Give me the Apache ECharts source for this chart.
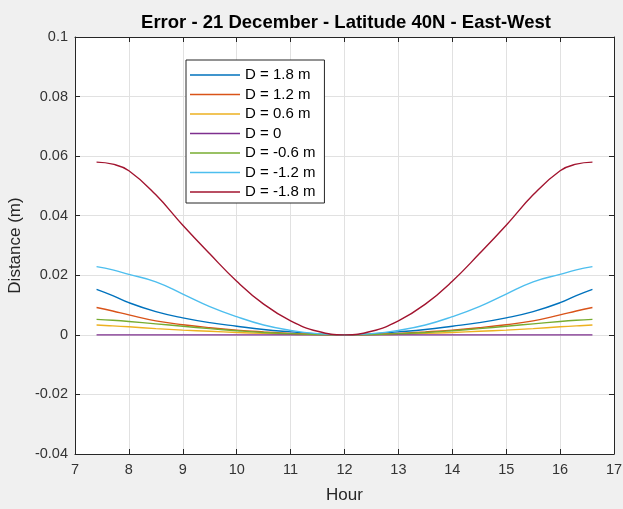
<!DOCTYPE html>
<html>
<head>
<meta charset="utf-8">
<script src="https://cdn.jsdelivr.net/npm/echarts@6/dist/echarts.min.js"></script>
<style>
html,body{margin:0;padding:0;background:#f0f0f0;}
#chart{width:623px;height:509px;}
</style>
</head>
<body>
<div id="chart"></div>
<script>
var hours = [7.4, 7.7, 8, 8.5, 9, 9.5, 10, 10.5, 11, 11.5, 12, 12.5, 13, 13.5, 14, 14.5, 15, 15.5, 16, 16.3, 16.6];
var dP18 = [0.0153, 0.0132, 0.0108, 0.0078, 0.0057, 0.0041, 0.0029, 0.0018, 0.0010, 0.0003, 0, 0.0003, 0.0010, 0.0018, 0.0029, 0.0041, 0.0057, 0.0078, 0.0108, 0.0132, 0.0153];
var dP12 = [0.0092, 0.0080, 0.0067, 0.0047, 0.0034, 0.0024, 0.0016, 0.0010, 0.0005, 0.0001, 0, 0.0001, 0.0005, 0.0010, 0.0016, 0.0024, 0.0034, 0.0047, 0.0067, 0.0080, 0.0092];
var dP06 = [0.0033, 0.0030, 0.0027, 0.0021, 0.0016, 0.0012, 0.0008, 0.0005, 0.0002, 0.0001, 0, 0.0001, 0.0002, 0.0005, 0.0008, 0.0012, 0.0016, 0.0021, 0.0027, 0.0030, 0.0033];
var d0 = [0, 0, 0, 0, 0, 0, 0, 0, 0, 0, 0, 0, 0, 0, 0, 0, 0, 0, 0, 0, 0];
var dM06 = [0.0052, 0.0049, 0.0045, 0.0037, 0.0029, 0.0021, 0.0014, 0.0008, 0.0004, 0.0001, 0, 0.0001, 0.0004, 0.0008, 0.0014, 0.0021, 0.0029, 0.0037, 0.0045, 0.0049, 0.0052];
var dM12 = [0.0229, 0.0218, 0.0203, 0.0178, 0.0137, 0.0095, 0.0061, 0.0033, 0.0015, 0.0004, 0, 0.0004, 0.0015, 0.0033, 0.0061, 0.0095, 0.0137, 0.0178, 0.0203, 0.0218, 0.0229];
var dM18 = [0.0580, 0.0573, 0.0551, 0.0470, 0.0368, 0.0272, 0.0180, 0.0103, 0.0047, 0.0012, 0, 0.0012, 0.0047, 0.0103, 0.0180, 0.0272, 0.0368, 0.0470, 0.0551, 0.0573, 0.0580];
var seriesNames = ['D = 1.8 m', 'D = 1.2 m', 'D = 0.6 m', 'D = 0', 'D = -0.6 m', 'D = -1.2 m', 'D = -1.8 m'];
var seriesValues = [dP18, dP12, dP06, d0, dM06, dM12, dM18];
var colors = ['#0072BD', '#D95319', '#EDB120', '#7E2F8E', '#77AC30', '#4DBEEE', '#A2142F'];
var xTickLabels = ['7','8','9','10','11','12','13','14','15','16','17'];
var yTickLabels = ['-0.04','-0.02','0','0.02','0.04','0.06','0.08','0.1'];

var FONT = '"Liberation Sans", Arial, Helvetica, sans-serif';
var AX = '#262626';
var chart = echarts.init(document.getElementById('chart'), null, {renderer: 'canvas'});

var series = seriesNames.map(function (n, i) {
  return {
    name: n,
    type: 'line',
    xAxisIndex: 0,
    yAxisIndex: 0,
    symbol: 'none',
    smooth: 0.45,
    lineStyle: {width: 1.4, color: colors[i]},
    itemStyle: {color: colors[i]},
    data: hours.map(function (h, k) { return [h, seriesValues[i][k]]; })
  };
});

var option = {
  backgroundColor: '#f0f0f0',
  animation: false,
  title: {
    text: 'Error - 21 December - Latitude 40N - East-West',
    left: 341, top: 8, textAlign: 'center',
    textStyle: {fontFamily: FONT, fontSize: 18.5, fontWeight: 'bold', color: '#000'}
  },
  legend: {
    orient: 'vertical',
    left: 186, top: 60,
    padding: [7.5, 9, 3.5, 4],
    icon: 'rect',
    itemWidth: 50, itemHeight: 1.5, itemGap: 4.5,
    backgroundColor: '#fff',
    borderColor: AX, borderWidth: 1,
    borderRadius: 0,
    textStyle: {fontFamily: FONT, fontSize: 15, lineHeight: 15, color: '#000'},
    data: seriesNames
  },
  grid: {left: 75, right: 9, top: 37, bottom: 55, outerBoundsMode: 'none', containLabel: false,
         show: true, backgroundColor: '#fff', borderWidth: 0},
  xAxis: [{
    type: 'value', min: 7, max: 17, interval: 1,
    name: 'Hour', nameLocation: 'middle', nameGap: 33,
    nameTextStyle: {fontFamily: FONT, fontSize: 17, color: AX},
    axisLine: {show: true, onZero: false, lineStyle: {color: AX, width: 1}},
    axisTick: {show: true, inside: true, length: 5, lineStyle: {color: AX}},
    axisLabel: {margin: 8, fontFamily: FONT, fontSize: 14.5, color: '#333',
      formatter: function (v) { return xTickLabels[Math.round(v - 7)]; }},
    splitLine: {show: true, lineStyle: {color: '#e1e1e1', width: 1}}
  }, {
    type: 'value', min: 7, max: 17, interval: 1, position: 'top',
    axisLine: {show: true, onZero: false, lineStyle: {color: AX, width: 1}},
    axisTick: {show: true, inside: true, length: 5, lineStyle: {color: AX}},
    axisLabel: {show: false}, splitLine: {show: false}
  }],
  yAxis: [{
    type: 'value', min: -0.04, max: 0.1, interval: 0.02,
    name: 'Distance (m)', nameLocation: 'middle', nameGap: 51, nameRotate: 90,
    nameTextStyle: {fontFamily: FONT, fontSize: 17, color: AX},
    axisLine: {show: true, onZero: false, lineStyle: {color: AX, width: 1}},
    axisTick: {show: true, inside: true, length: 5, lineStyle: {color: AX}},
    axisLabel: {margin: 7, fontFamily: FONT, fontSize: 14.5, color: '#333',
      formatter: function (v) { return yTickLabels[Math.round((v + 0.04) / 0.02)]; }},
    splitLine: {show: true, lineStyle: {color: '#e1e1e1', width: 1}}
  }, {
    type: 'value', min: -0.04, max: 0.1, interval: 0.02, position: 'right',
    axisLine: {show: true, onZero: false, lineStyle: {color: AX, width: 1}},
    axisTick: {show: true, inside: true, length: 5, lineStyle: {color: AX}},
    axisLabel: {show: false}, splitLine: {show: false}
  }],
  series: series
};
chart.setOption(option);
</script>
</body>
</html>
